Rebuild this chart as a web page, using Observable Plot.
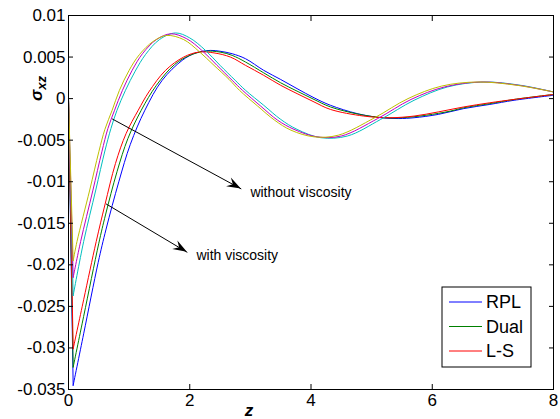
<!DOCTYPE html>
<html><head><meta charset="utf-8">
<script src="https://cdn.jsdelivr.net/npm/d3@7"></script>
<script src="https://cdn.jsdelivr.net/npm/@observablehq/plot@0.6"></script>
<style>
body{margin:0;background:#fff}
#chart{position:relative;width:560px;height:419px;overflow:hidden}
</style>
</head><body><div id="chart"></div><script>
// ---- data ----
const legendNames = ["RPL", "Dual", "L-S"];
const seriesColors = ["#0000ff", "#008000", "#ff0000", "#00bfbf", "#bf00bf", "#bfbf00"];

// with viscosity
const rplX  = [0, 0.077, 0.25, 0.49, 0.62, 0.83, 1.02, 1.26, 1.545, 1.875, 2.1, 2.34, 2.5, 2.7, 2.92, 3.22, 3.5, 3.77, 4.05, 4.32, 4.76, 5.15, 5.45, 5.7, 6.1, 6.52, 6.95, 7.35, 8];
const rplY  = [0, -0.0345, -0.0283, -0.0197, -0.0157, -0.0100, -0.0055, -0.0014, 0.0022, 0.0046, 0.0055, 0.0058, 0.0057, 0.0054, 0.0048, 0.0034, 0.0023, 0.0012, 0.0001, -0.0008, -0.0018, -0.0023, -0.0024, -0.0023, -0.0019, -0.0012, -0.0007, -0.0002, 0.0004];
const dualX = [0, 0.077, 0.25, 0.5, 0.61, 0.8, 0.98, 1.2, 1.45, 1.75, 2.0, 2.25, 2.5, 2.7, 2.92, 3.22, 3.5, 3.77, 4.05, 4.32, 4.8, 5.2, 5.5, 5.9, 6.3, 6.52, 6.95, 7.35, 8];
const dualY = [0, -0.0323, -0.0262, -0.0174, -0.0140, -0.0088, -0.0048, -0.0014, 0.0016, 0.0041, 0.0052, 0.0057, 0.0056, 0.0052, 0.0044, 0.0031, 0.0019, 0.0009, -0.0001, -0.0010, -0.0019, -0.0023, -0.0023, -0.0020, -0.0015, -0.0011, -0.0006, -0.0001, 0.0005];
const lsX   = [0, 0.077, 0.25, 0.457, 0.6, 0.775, 0.95, 1.15, 1.325, 1.6, 1.9, 2.15, 2.4, 2.67, 2.92, 3.22, 3.5, 3.77, 4.05, 4.32, 4.87, 5.3, 5.7, 6.1, 6.52, 6.95, 7.35, 8];
const lsY   = [0, -0.0301, -0.0242, -0.0172, -0.0128, -0.0078, -0.0042, -0.0014, 0.0008, 0.0034, 0.0050, 0.0056, 0.0055, 0.0050, 0.0040, 0.0028, 0.0016, 0.0006, -0.0004, -0.0013, -0.0021, -0.0023, -0.0021, -0.0016, -0.0010, -0.0005, -0.0001, 0.0005];
// without viscosity
const rpl0X  = [0, 0.077, 0.25, 0.45, 0.6, 0.7, 0.8, 0.94, 1.1, 1.27, 1.5, 1.765, 2.0, 2.26, 2.5, 2.75, 2.92, 3.22, 3.5, 3.77, 4.16, 4.6, 5.15, 5.7, 6.25, 6.85, 7.46, 8];
const rpl0Y  = [0, -0.0237, -0.0172, -0.0110, -0.0063, -0.0036, -0.0014, 0.0010, 0.0033, 0.0053, 0.0071, 0.0079, 0.0073, 0.0058, 0.0040, 0.0022, 0.0010, -0.0008, -0.0025, -0.0037, -0.0047, -0.0045, -0.0025, -0.0002, 0.0014, 0.0020, 0.0016, 0.0008];
const dual0X = [0, 0.077, 0.2, 0.4, 0.55, 0.65, 0.76, 0.89, 1.05, 1.22, 1.45, 1.69, 1.95, 2.2, 2.45, 2.7, 2.87, 3.17, 3.45, 3.72, 4.1, 4.5, 5.1, 5.65, 6.2, 6.8, 7.43, 8];
const dual0Y = [0, -0.0215, -0.0172, -0.0111, -0.0064, -0.0036, -0.0014, 0.0010, 0.0034, 0.0054, 0.0071, 0.0078, 0.0072, 0.0058, 0.0040, 0.0022, 0.0010, -0.0009, -0.0026, -0.0037, -0.0046, -0.0045, -0.0024, -0.0001, 0.0014, 0.0020, 0.0016, 0.0008];
const ls0X   = [0, 0.077, 0.14, 0.35, 0.5, 0.6, 0.72, 0.84, 1.0, 1.17, 1.4, 1.62, 1.9, 2.15, 2.4, 2.65, 2.82, 3.12, 3.4, 3.67, 4.05, 4.45, 5.05, 5.6, 6.15, 6.75, 7.4, 8];
const ls0Y   = [0, -0.0195, -0.0172, -0.0110, -0.0064, -0.0037, -0.0014, 0.0010, 0.0034, 0.0053, 0.0069, 0.0076, 0.0071, 0.0057, 0.0040, 0.0023, 0.0010, -0.0009, -0.0026, -0.0038, -0.0046, -0.0044, -0.0023, 0.0000, 0.0015, 0.0020, 0.0016, 0.0008];

const xTicks = [0, 2, 4, 6, 8];
const xTickLabels = ["0", "2", "4", "6", "8"];
const yTicks = [0.01, 0.005, 0, -0.005, -0.01, -0.015, -0.02, -0.025, -0.03, -0.035];
const yTickLabels = ["0.01", "0.005", "0", "-0.005", "-0.01", "-0.015", "-0.02", "-0.025", "-0.03", "-0.035"];

// annotations (data units)
const arrowX1 = [0.72, 0.62];
const arrowY1 = [-0.00244, -0.01267];
const arrowX2 = [2.85, 1.96];
const arrowY2 = [-0.01087, -0.0185];
const noteX = [3.0, 2.11];
const noteY = [-0.01127, -0.01889];
const noteText = ["without viscosity", "with viscosity"];

// ---- build ----
const FONT = "'Liberation Sans', Arial, sans-serif";
const seriesX = [rplX, dualX, lsX, rpl0X, dual0X, ls0X];
const seriesY = [rplY, dualY, lsY, rpl0Y, dual0Y, ls0Y];
const lineMarks = seriesX.flatMap((xs, i) => {
  const rows = xs.map((x, j) => ({x, y: seriesY[i][j]}));
  return [
    Plot.line(rows.slice(0, 2), {x: "x", y: "y", stroke: seriesColors[i], strokeWidth: 1}),
    Plot.line(rows.slice(1), {x: "x", y: "y", stroke: seriesColors[i], strokeWidth: 1, curve: "catmull-rom"})
  ];
});
const arrows = arrowX1.map((d, i) => ({x1: d, y1: arrowY1[i], x2: arrowX2[i], y2: arrowY2[i]}));
const notes = noteX.map((d, i) => ({x: d, y: noteY[i], text: noteText[i]}));
const fmtX = d => xTickLabels[xTicks.indexOf(d)];
const fmtY = d => yTickLabels[yTicks.indexOf(d)];

const chart = Plot.plot({
  width: 560, height: 419,
  marginLeft: 68, marginRight: 7, marginTop: 15, marginBottom: 30,
  x: {domain: [0, 8]},
  y: {domain: [-0.035, 0.01]},
  style: {fontFamily: FONT, fontSize: "17px", color: "black", background: "white", overflow: "visible"},
  marks: [
    ...lineMarks,
    Plot.link(arrows, {x1: "x1", y1: "y1", x2: "x2", y2: "y2", stroke: "black", strokeWidth: 1}),
    Plot.text(notes, {x: "x", y: "y", text: "text", textAnchor: "start", fontSize: 14, fill: "black"}),
    Plot.frame({stroke: "black", strokeWidth: 1}),
    Plot.axisX(xTicks, {anchor: "bottom", tickSize: -5, tickPadding: 9, tickFormat: fmtX, label: null, fontSize: 17}),
    Plot.axisX(xTicks, {anchor: "top", tickSize: -5, tickFormat: () => "", label: null}),
    Plot.axisY(yTicks, {anchor: "left", tickSize: -5, tickPadding: 8, tickFormat: fmtY, label: null, fontSize: 17}),
    Plot.axisY(yTicks, {anchor: "right", tickSize: -5, tickFormat: () => "", label: null})
  ]
});
document.getElementById("chart").appendChild(chart);

const svg = d3.select(chart);
const sx = chart.scale("x"), sy = chart.scale("y");

// filled arrow heads, placed through the plot's own scales
arrows.forEach(a => {
  const x1 = sx.apply(a.x1), y1 = sy.apply(a.y1), x2 = sx.apply(a.x2), y2 = sy.apply(a.y2);
  const len = Math.hypot(x2 - x1, y2 - y1);
  const ux = (x2 - x1) / len, uy = (y2 - y1) / len, nx = -uy, ny = ux;
  const L = 14, Wd = 5, notch = 9;
  const pts = [
    [x2, y2],
    [x2 - L * ux + Wd * nx, y2 - L * uy + Wd * ny],
    [x2 - notch * ux, y2 - notch * uy],
    [x2 - L * ux - Wd * nx, y2 - L * uy - Wd * ny]
  ];
  svg.append("polygon").attr("points", pts.map(p => p.join(",")).join(" ")).attr("fill", "black");
});

// axis titles
const ylab = svg.append("text")
  .attr("transform", "translate(42,101) rotate(-90)")
  .attr("text-anchor", "start")
  .attr("font-family", FONT)
  .attr("font-weight", "bold").attr("font-style", "italic").attr("fill", "black");
ylab.append("tspan").attr("font-size", 17).text("σ");
ylab.append("tspan").attr("font-size", 13).attr("dy", 4).text("xz");
svg.append("text")
  .attr("x", 249).attr("y", 416).attr("text-anchor", "middle")
  .attr("font-family", FONT)
  .attr("font-weight", "bold").attr("font-style", "italic").attr("font-size", 17)
  .attr("fill", "black").text("z");

// legend (MATLAB-style box inside the axes)
const lg = svg.append("g").attr("font-family", FONT).attr("font-size", 18).attr("text-anchor", "start");
lg.append("rect").attr("x", 442).attr("y", 287).attr("width", 89).attr("height", 80)
  .attr("fill", "white").attr("stroke", "black");
legendNames.forEach((name, i) => {
  const yy = 302 + i * 24.5;
  lg.append("line").attr("x1", 449).attr("x2", 482).attr("y1", yy).attr("y2", yy)
    .attr("stroke", seriesColors[i]).attr("stroke-width", 1);
  lg.append("text").attr("x", 486).attr("y", yy + 6).attr("fill", "black").text(name);
});
</script></body></html>
